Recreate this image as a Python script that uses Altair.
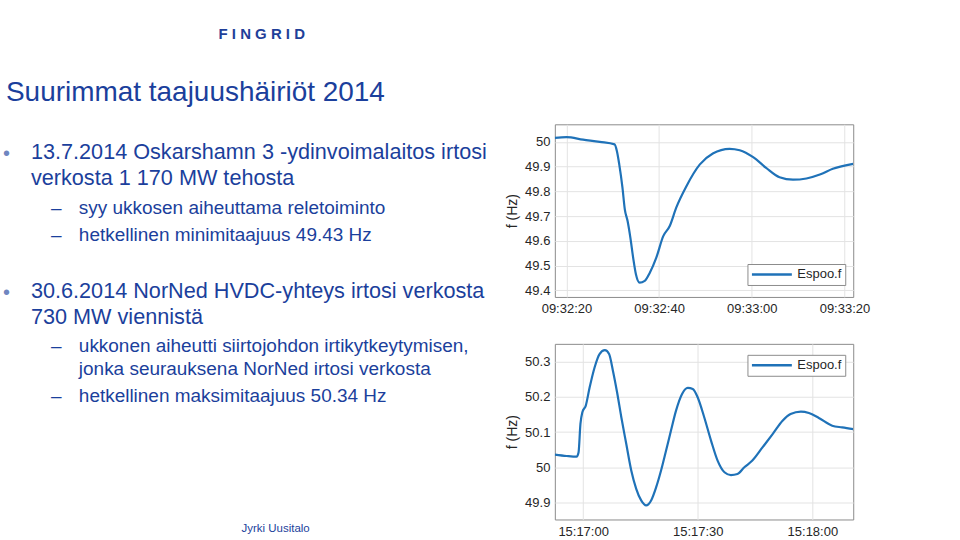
import altair as alt
import pandas as pd

FONT = "Liberation Sans"
BLUE = "#1b3f9c"
LINE = "#1f72b8"
AX = "#262626"

# ---------------- slide texts ----------------
title_text = "Suurimmat taajuushäiriöt 2014"
logo_text = "F I N G R I D"
footer_text = "Jyrki Uusitalo"
bullet1 = ["13.7.2014 Oskarshamn 3 -ydinvoimalaitos irtosi", "verkosta 1 170 MW tehosta"]
sub1 = ["syy ukkosen aiheuttama reletoiminto", "hetkellinen minimitaajuus 49.43 Hz"]
bullet2 = ["30.6.2014 NorNed HVDC-yhteys irtosi verkosta", "730 MW viennistä"]
sub2a = ["ukkonen aiheutti siirtojohdon irtikytkeytymisen,", "jonka seurauksena NorNed irtosi verkosta"]
sub2b = ["hetkellinen maksimitaajuus 50.34 Hz"]

# ---------------- chart 1: 13.7.2014 ----------------
top_date = "2014-07-13"
top_time = ["09:32:17.5", "09:32:20.0", "09:32:23.6", "09:32:27.2", "09:32:30.4", "09:32:30.9",
            "09:32:31.4", "09:32:32.1", "09:32:32.6", "09:32:33.2", "09:32:33.8", "09:32:34.4",
            "09:32:35.0", "09:32:35.8", "09:32:36.9", "09:32:38.0", "09:32:39.4", "09:32:40.9",
            "09:32:42.3", "09:32:43.7", "09:32:45.9", "09:32:48.8", "09:32:51.6", "09:32:55.2",
            "09:32:57.4", "09:33:00.3", "09:33:03.1", "09:33:06.0", "09:33:08.9", "09:33:11.8",
            "09:33:14.7", "09:33:17.5", "09:33:21.9"]
top_freq = [50.016, 50.019, 50.009, 50.000, 49.990, 49.962,
            49.909, 49.814, 49.727, 49.680, 49.613, 49.532,
            49.465, 49.431, 49.438, 49.471, 49.532, 49.619,
            49.660, 49.734, 49.821, 49.909, 49.953, 49.972,
            49.966, 49.938, 49.895, 49.857, 49.847, 49.852,
            49.868, 49.891, 49.911]
top_ticks = ["09:32:20", "09:32:40", "09:33:00", "09:33:20"]
top_yticks = [49.4, 49.5, 49.6, 49.7, 49.8, 49.9, 50.0]
top_xdomain = ["09:32:17.5", "09:33:21.9"]
top_ydomain = [49.373, 50.071]

# ---------------- chart 2: 30.6.2014 ----------------
bot_date = "2014-06-30"
bot_time = ["15:16:52.6", "15:16:55.7", "15:16:58.3", "15:16:58.8", "15:16:59.3", "15:16:59.8",
            "15:17:00.7", "15:17:01.7", "15:17:03.0", "15:17:04.3", "15:17:05.7", "15:17:06.8",
            "15:17:07.8", "15:17:08.9", "15:17:10.0", "15:17:11.3", "15:17:12.6", "15:17:13.9",
            "15:17:15.2", "15:17:16.5", "15:17:17.8", "15:17:19.1", "15:17:20.4", "15:17:21.7",
            "15:17:23.0", "15:17:24.3", "15:17:25.9", "15:17:27.4", "15:17:28.7", "15:17:30.0",
            "15:17:31.7", "15:17:33.5", "15:17:35.2", "15:17:37.0", "15:17:38.7", "15:17:40.4",
            "15:17:42.2", "15:17:44.3", "15:17:47.0", "15:17:49.6", "15:17:52.2", "15:17:54.3",
            "15:17:57.0", "15:17:59.1", "15:18:01.7", "15:18:05.2", "15:18:07.8", "15:18:10.7"]
bot_freq = [50.036, 50.032, 50.030, 50.042, 50.123, 50.156,
            50.175, 50.226, 50.283, 50.321, 50.332, 50.321,
            50.274, 50.212, 50.142, 50.066, 49.991, 49.939,
            49.906, 49.892, 49.906, 49.943, 49.991, 50.047,
            50.104, 50.160, 50.208, 50.225, 50.222, 50.198,
            50.142, 50.075, 50.019, 49.986, 49.978, 49.981,
            50.000, 50.019, 50.057, 50.094, 50.132, 50.151,
            50.158, 50.154, 50.140, 50.118, 50.113, 50.108]
bot_ticks = ["15:17:00", "15:17:30", "15:18:00"]
bot_yticks = [49.9, 50.0, 50.1, 50.2, 50.3]
bot_xdomain = ["15:16:52.6", "15:18:10.7"]
bot_ydomain = [49.852, 50.35]

series_name = "Espoo.f"


def dt(date, hms):
    y, mo, d = [int(v) for v in date.split("-")]
    h, mi, s = hms.split(":")
    sec = float(s)
    return alt.DateTime(year=y, month=mo, date=d, hours=int(h), minutes=int(mi),
                        seconds=int(sec), milliseconds=int(round((sec - int(sec)) * 1000)))


def freq_chart(date, times, freqs, ticks, yticks, xdom, ydom, w, h, lx, ly):
    df = pd.DataFrame({
        "time": pd.to_datetime([date + " " + t for t in times]),
        "f": freqs,
        "series": series_name,
    })
    return alt.Chart(df).mark_line(strokeWidth=2.2, clip=True, interpolate="monotone").encode(
        x=alt.X("time:T",
                scale=alt.Scale(domain=[dt(date, xdom[0]), dt(date, xdom[1])], nice=False),
                axis=alt.Axis(values=[dt(date, t) for t in ticks], format="%H:%M:%S",
                              title=None, labelPadding=6)),
        y=alt.Y("f:Q",
                scale=alt.Scale(domain=ydom, nice=False, zero=False),
                axis=alt.Axis(values=yticks, format="~g", title="f (Hz)",
                              labelPadding=5, titlePadding=5)),
        color=alt.Color("series:N",
                        scale=alt.Scale(domain=[series_name], range=[LINE]),
                        legend=alt.Legend(title=None, orient="none", legendX=lx, legendY=ly,
                                          symbolType="stroke", symbolSize=1600,
                                          clipHeight=15,
                                          symbolStrokeWidth=2.5, labelFontSize=13,
                                          labelFont=FONT, labelColor=AX,
                                          strokeColor="#8c8c8c", fillColor="white",
                                          padding=3)),
    ).properties(width=w, height=h)


# plot-area origin of the first chart on the slide
OX, OY = 555, 123


def txt(s, x, y, size, color=BLUE, weight="normal"):
    return alt.Chart(pd.DataFrame({"t": [s]})).mark_text(
        align="left", baseline="alphabetic", fontSize=size, font=FONT,
        color=color, fontWeight=weight,
    ).encode(text="t:N", x=alt.value(x - OX), y=alt.value(y - OY))


canvas = alt.Chart(pd.DataFrame({"t": [0]})).mark_rect(fillOpacity=0, strokeOpacity=0).encode(
    x=alt.value(-OX), x2=alt.value(960 - OX), y=alt.value(-OY), y2=alt.value(540 - OY))

texts = [
    txt(logo_text, 218, 38, 15, "#1f3f99", "bold"),
    txt(title_text, 5, 100, 28),
    txt("•", 2, 159, 20, "#6f86c0"),
    txt(bullet1[0], 30, 158, 21.7),
    txt(bullet1[1], 30, 184, 21.7),
    txt("–", 50, 213, 19),
    txt(sub1[0], 78, 213, 19),
    txt("–", 50, 240, 19),
    txt(sub1[1], 78, 240, 19),
    txt("•", 2, 298, 20, "#6f86c0"),
    txt(bullet2[0], 30, 297, 21.7),
    txt(bullet2[1], 30, 323, 21.7),
    txt("–", 50, 351, 19),
    txt(sub2a[0], 78, 351, 19),
    txt(sub2a[1], 78, 374, 19),
    txt("–", 50, 401, 19),
    txt(sub2b[0], 78, 401, 19),
    txt(footer_text, 241, 532, 11.5),
]

top = freq_chart(top_date, top_time, top_freq, top_ticks, top_yticks,
                 top_xdomain, top_ydomain, 299, 173, 193, 140)
bottom = freq_chart(bot_date, bot_time, bot_freq, bot_ticks, bot_yticks,
                    bot_xdomain, bot_ydomain, 299, 176, 193, 11)

top_layer = alt.layer(canvas, top, *texts)

chart = alt.vconcat(top_layer, bottom, spacing=47, bounds="flush").resolve_scale(
    color="independent").resolve_legend(color="independent").properties(
    padding=0, background="white"
).configure_view(stroke="#8c8c8c", strokeWidth=1).configure_axis(
    labelFont=FONT, labelFontSize=13, labelColor=AX, titleFont=FONT, titleFontSize=14,
    titleColor=AX, titleFontWeight="normal", domain=False, ticks=False,
    gridColor="#e3e3e3", gridWidth=1,
)

chart.save("out.html", embed_options={"renderer": "svg", "actions": False})
